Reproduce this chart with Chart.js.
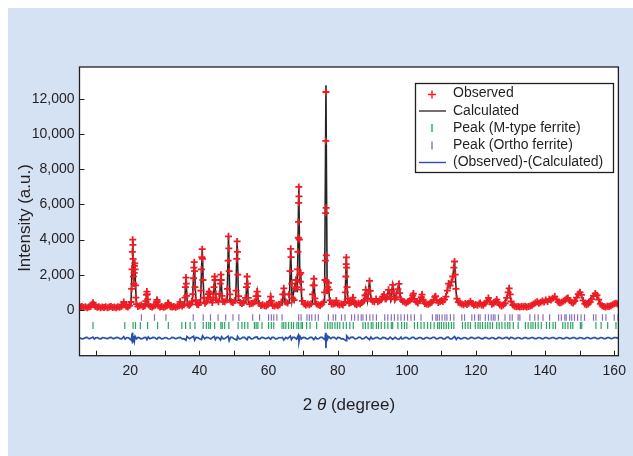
<!DOCTYPE html>
<html>
<head>
<meta charset="utf-8">
<script src="https://cdn.jsdelivr.net/npm/chart.js@4.4.1/dist/chart.umd.min.js"></script>
<style>
  html, body { margin: 0; padding: 0; background: #fff; }
</style>
</head>
<body>
<canvas id="xrd" width="633" height="456"></canvas>
<script>
// Observed pattern, [2theta, intensity]
const observed = [
  [5.5,160],[6,190],[6.5,140],[7,180],[7.5,130],[8,170],[8.5,200],[8.9,300],[9.2,410],[9.5,300],[9.9,200],[10.4,150],[10.9,180],[11.4,130],[11.9,170],[12.4,140],[12.9,180],[13.4,130],[13.9,160],[14.4,190],[14.9,140],[15.4,170],[15.9,130],[16.4,180],[16.9,150],[17.4,190],[17.8,280],[18.1,450],[18.4,300],[18.8,210],[19.3,170],[19.8,240],
  [20.2,450],[20.4,1200],[20.5,2300],[20.6,3300],[20.7,3990],[20.75,3700],[20.8,2900],[20.9,1900],[21.0,1500],[21.1,2100],[21.2,2500],[21.3,2650],[21.4,2300],[21.5,1400],[21.6,700],[21.8,330],[22.2,200],[22.7,240],[23.2,280],[23.7,190],[24.2,240],[24.5,500],[24.7,850],[24.8,1040],[24.9,900],[25.0,600],[25.3,280],[25.8,200],[26.3,170],[26.8,220],[27.3,260],[27.6,450],[27.7,570],[27.8,480],[28.1,240],[28.6,170],[29.1,200],[29.6,150],[30.1,180],[30.6,240],[30.9,380],[31.0,400],[31.2,290],[31.6,180],[32.1,160],[32.6,200],[33.1,150],[33.6,190],[34.1,240],[34.4,460],[34.6,280],[35.0,220],[35.5,300],
  [35.8,700],[35.95,1300],[36.1,1840],[36.2,1500],[36.3,800],[36.6,320],[37.0,260],[37.4,320],[37.8,480],[38.1,900],[38.3,1800],[38.4,2400],[38.5,2710],[38.6,2200],[38.7,1300],[38.9,560],[39.3,320],[39.7,290],[40.1,420],[40.4,1100],[40.6,2300],[40.7,3000],[40.8,3450],[40.9,2900],[41.0,1700],[41.2,680],[41.6,380],[42.0,460],[42.4,700],[42.6,900],[42.8,1040],[43.0,950],[43.3,580],[43.7,420],[44.0,700],[44.2,1300],[44.4,1900],[44.5,1700],[44.7,900],[45.0,560],[45.5,470],[45.8,900],[46.0,1500],[46.2,2000],[46.3,1700],[46.5,800],[46.8,480],[47.3,460],[47.8,560],[48.1,1200],[48.3,2800],[48.4,4180],[48.5,3500],[48.6,2200],[48.8,880],[49.2,460],[49.7,420],[50.2,520],[50.6,1100],[50.8,2900],[50.9,3890],[51.0,3300],[51.1,2000],[51.3,780],[51.8,420],[52.3,370],[52.8,420],[53.3,680],[53.6,1300],[53.8,1900],[53.9,1500],[54.1,680],[54.5,330],[55.0,360],[55.5,400],[56.0,460],[56.4,780],[56.7,1040],[56.9,780],[57.3,360],[57.8,250],[58.3,300],[58.8,240],[59.3,220],[59.8,300],
  [60.3,450],[60.6,760],[60.8,520],[61.2,250],[61.7,220],[62.2,280],[62.7,240],[63.2,290],[63.7,450],[64.1,880],[64.4,1230],[64.6,880],[65.0,450],[65.5,400],[65.9,880],[66.2,2200],[66.4,3470],[66.5,3000],[66.7,1500],[67.0,650],[67.4,560],[67.7,1200],[67.9,1700],[68.1,1300],[68.4,2300],[68.5,3300],[68.6,4100],[68.65,5000],[68.7,6080],[68.75,6990],[68.8,6450],[68.9,4000],[69.0,2000],[69.2,1600],[69.3,2100],[69.5,1150],[69.8,520],[70.3,330],[70.8,280],[71.3,340],[71.8,290],[72.3,350],[72.7,880],[72.9,1400],[73.1,1770],[73.2,1400],[73.4,660],[73.9,340],[74.4,290],[74.9,250],[75.4,330],[75.9,440],[76.2,1000],[76.35,1700],[76.45,2800],[76.5,5500],[76.55,9600],[76.6,12380],[76.65,5800],[76.7,3100],[76.8,1600],[76.9,1100],[77.1,1300],[77.3,1540],[77.5,1150],[77.8,540],[78.2,330],[78.7,330],[79.2,380],[79.6,530],[80.0,340],
  [80.5,280],[81.0,330],[81.5,280],[82.0,450],[82.2,1000],[82.35,1900],[82.45,2600],[82.5,2980],[82.6,2400],[82.7,1300],[82.9,640],[83.3,380],[83.8,420],[84.2,550],[84.4,700],[84.6,500],[85.0,330],[85.5,290],[86.0,380],[86.5,330],[87.0,420],[87.5,520],[87.9,820],[88.1,1140],[88.3,880],[88.7,640],[89.0,1100],[89.2,1650],[89.4,1080],[89.7,620],[90.1,500],[90.6,460],[91.1,620],[91.6,460],[92.1,520],[92.6,580],[93.0,760],[93.4,870],[93.8,620],[94.3,740],[94.7,1140],[95.0,760],[95.4,640],[95.7,1080],[95.9,1420],[96.1,960],[96.5,600],[97.0,720],[97.4,1180],[97.7,1480],[97.9,960],[98.3,600],[98.8,500],[99.3,450],[99.8,400],[100.3,460],[100.8,520],[101.3,620],[101.7,820],[101.9,930],[102.2,620],[102.7,460],[103.2,400],[103.7,520],[104.2,720],[104.4,870],[104.7,580],[105.2,370],[105.7,330],[106.2,320],[106.7,380],[107.2,440],[107.7,560],[108.1,740],[108.3,780],[108.6,560],[109.1,420],[109.6,480],[110.0,540],[110.4,480],[110.9,580],
  [111.3,760],[111.7,1100],[112.1,1500],[112.5,1380],[112.9,1600],[113.3,1900],[113.6,2400],[113.8,2750],[114.0,2000],[114.2,1200],[114.5,640],[114.9,440],[115.4,400],[115.9,340],[116.4,300],[116.9,360],[117.4,310],[117.9,380],[118.4,500],[118.9,360],[119.4,270],[119.9,310],[120.4,260],[120.9,330],[121.2,400],[121.6,280],[122.1,260],[122.6,380],[123.1,480],[123.6,680],[124.1,480],[124.6,320],[125.1,380],[125.6,470],[126.0,590],[126.4,430],[126.9,280],[127.4,230],[127.9,280],[128.4,380],[128.9,680],[129.3,1000],[129.6,1230],[129.9,880],[130.2,480],[130.7,280],
  [131.2,210],[131.7,180],[132.2,200],[132.7,170],[133.2,200],[133.7,180],[134.2,210],[134.7,170],[135.2,200],[135.7,220],[136.2,260],[136.7,330],[137.2,410],[137.7,460],[138.2,380],[138.7,430],[139.2,510],[139.7,450],[140.2,560],[140.7,480],[141.2,600],[141.7,560],[142.2,660],[142.8,760],[143.3,600],[143.8,440],[144.3,390],[144.8,440],[145.3,500],[145.8,560],[146.2,640],[146.6,680],[147.1,540],[147.6,440],[148.1,400],[148.6,500],[149.1,700],[149.6,900],[150.1,1000],[150.5,850],[151.0,540],[151.5,340],[152.0,290],[152.5,340],[153.0,450],[153.5,600],[154.0,800],[154.5,930],[155.0,840],[155.5,580],[156.0,340],[156.5,240],[157.0,190],[157.5,170],[158.0,210],[158.5,190],[159.0,240],[159.5,300],[160.0,350],[160.5,380],[161.0,340]
];

// Calculated profile
const calculated = [
  [5.3,160],[8.7,190],[9.2,400],[9.7,190],[12,160],[15,160],[17.6,180],[18.1,440],[18.6,200],[20.2,350],[20.5,2300],[20.7,4000],[20.9,1950],[21.05,1650],[21.3,2660],[21.5,1400],[21.8,300],[24.4,250],[24.8,1050],[25.2,250],[27.4,220],[27.7,560],[28.0,210],[30.7,190],[31.0,400],[31.3,190],[34.1,200],[34.4,450],[34.7,200],[35.7,300],[36.1,1850],[36.5,300],[37.9,380],[38.5,2720],[39.0,380],[40.3,420],[40.8,3460],[41.3,450],[42.4,520],[42.8,1050],[43.3,500],[44.0,520],[44.4,1910],[44.8,520],[45.8,560],[46.2,2090],[46.6,520],[48.0,500],[48.4,4200],[48.8,560],[50.5,520],[50.9,3900],[51.3,560],[53.4,420],[53.8,1900],[54.2,400],[56.3,400],[56.7,1050],[57.1,380],[58.0,260],[60.3,280],[60.6,760],[60.9,280],[62.0,260],[64.0,320],[64.4,1230],[64.8,340],[66.0,380],[66.4,3480],[66.8,520],[67.9,1700],[68.3,1000],[68.75,7050],[69.05,1500],[69.3,2100],[69.6,450],[70.0,350],[71.5,320],[72.7,340],[73.1,1780],[73.5,340],[75.0,300],[76.2,500],[76.6,12760],[76.95,900],[77.3,1550],[77.7,380],[79.3,300],[79.6,530],[79.9,300],[80.5,300],[82.1,420],[82.5,3000],[82.9,420],[84.1,360],[84.4,700],[84.7,360],[85.5,310],[87.0,440],[87.8,500],[88.1,1140],[88.6,520],[89.2,1650],[89.7,460],[90.6,480],[91.6,480],[92.6,560],[93.4,870],[94.0,560],[94.7,1140],[95.3,560],[95.9,1420],[96.5,540],[97.7,1480],[98.3,480],[99.3,450],[100.8,500],[101.5,600],[101.9,930],[102.3,460],[103.2,420],[104.1,520],[104.4,870],[104.8,420],[105.7,340],[107.2,430],[107.9,560],[108.3,780],[108.7,460],[109.6,480],[110.4,500],[111.0,600],[111.7,1080],[112.1,1500],[112.5,1380],[112.9,1600],[113.3,1900],[113.8,2770],[114.4,560],[115.5,400],[117.0,330],[118.0,380],[118.4,500],[118.8,360],[121.2,380],[123.2,460],[123.6,680],[124.0,460],[125.6,460],[126.0,590],[126.4,420],[127.4,240],[129.0,700],[129.6,1230],[130.2,460],[131,220],[133,190],[135,200],[136.5,300],[138,420],[140.2,530],[142.8,740],[144.3,400],[146.6,660],[148.1,420],[150.1,980],[151.5,350],[154.5,920],[156.5,250],[158,200],[160.5,360],[161.2,330]
];

// (Observed)-(Calculated), around zero
const difference = [
  [5.3,20],[6,-40],[6.5,-30],[7,30],[7.5,40],[8,-30],[8.5,-20],[9.2,60],[9.6,-50],[10,20],[10.5,30],[11,-30],[11.5,-40],[12,30],[12.5,20],[13,-20],[13.5,-30],[14,30],[14.5,40],[15,-30],[15.5,-20],[16,40],[16.5,30],[17,-30],[17.5,-40],[18.1,80],[18.5,-60],[19,30],[19.5,20],[20.3,-120],[20.5,250],[20.6,-300],[20.7,320],[20.8,-180],[21.0,120],[21.2,-150],[21.4,100],[21.8,-40],[22.2,40],[22.5,30],[23,-40],[23.5,-30],[24,30],[24.5,40],[24.8,-90],[25.2,60],[25.6,-30],[26,-20],[26.5,40],[27,30],[27.7,-60],[28.1,30],[28.5,40],[29,-40],[29.5,-30],[30,30],[30.5,20],[31,-50],[31.5,-40],[32,40],[32.5,30],[33,-30],[33.5,-20],[34,30],[34.5,40],[35,-40],[35.5,-30],[36.1,-120],[36.4,90],[36.8,30],[37.2,-30],[37.7,40],[38.3,100],[38.6,-120],[39,40],[39.5,30],[40,-40],[40.6,-90],[40.9,130],[41.5,-40],[42,40],[42.5,30],[43.3,-50],[43.8,40],[44.3,90],[44.6,-80],[45,40],[45.5,30],[46.1,-110],[46.4,80],[46.9,-40],[47.3,-30],[47.8,40],[48.3,110],[48.6,-150],[49,40],[49.5,40],[50,-40],[50.8,-110],[51.0,100],[51.5,-40],[52,-30],[52.5,40],[53,40],[53.8,-90],[54.1,50],[54.5,50],[55,-40],[55.5,-30],[56,40],[56.7,60],[57,-40],[57.5,-40],[58,40],[58.5,30],[59,-30],[59.5,-20],[60,40],[60.6,-70],[61,40],[61.5,40],[62,-40],[62.5,-30],[63,30],[63.5,20],[64,40],[64.4,-110],[65,40],[65.5,-30],[66.3,120],[66.6,-90],[67,40],[67.5,40],[68.1,-60],[68.6,150],[68.8,-200],[69.1,90],[69.5,-50],[70,40],[70.5,30],[71,-40],[71.5,-30],[72,40],[72.5,40],[73.1,-90],[73.6,50],[74,-40],[74.5,-30],[75,40],[75.5,40],[76.3,-100],[76.5,300],[76.6,-580],[76.7,200],[76.9,-120],[77.4,80],[78,-30],[78.5,40],[79,40],[79.6,-60],[80,40],[80.5,30],[81,-40],[81.5,-30],[82.4,-150],[82.6,130],[83.3,-40],[83.8,40],[84.4,60],[85,-40],[85.5,-30],[86,40],[86.5,40],[87,-40],[87.5,-30],[88.2,70],[89.2,-90],[89.6,60],[90,-40],[90.5,-30],[91,30],[91.5,40],[92,-30],[92.5,-40],[93,40],[93.5,30],[94.1,-30],[94.6,-60],[95.2,50],[95.9,-70],[96.6,40],[97.2,-40],[97.7,-70],[98.3,50],[98.6,-40],[99,-30],[99.5,40],[100,30],[100.5,-40],[101,-30],[101.5,40],[102,40],[102.5,-40],[103,-30],[103.5,30],[104,30],[104.5,-40],[105,-40],[105.5,30],[106,30],[106.5,-30],[107,-20],[107.5,40],[108,40],[108.5,-40],[109,-30],[109.5,30],[110,30],[110.5,-40],[111,-40],[111.5,40],[112,50],[112.5,-40],[113,-40],[113.8,90],[114.3,-80],[114.7,30],[115,30],[115.5,-40],[116,-30],[116.5,30],[117,20],[117.5,-40],[118,-30],[118.5,40],[119,30],[119.5,-30],[120,-20],[120.5,40],[121,30],[121.5,-30],[122,-40],[122.5,30],[123,30],[123.5,-30],[124,-30],[124.5,30],[125,20],[125.5,-40],[126,-30],[126.5,40],[127,30],[127.5,-30],[128,-20],[128.5,30],[129,40],[129.6,-60],[130,40],[130.5,30],[131,-30],[131.5,-30],[132,30],[132.5,20],[133,-30],[133.5,-30],[134,30],[134.5,30],[135,-30],[135.5,-20],[136,30],[136.5,30],[137,-30],[137.5,-30],[138,30],[138.5,20],[139,-30],[139.5,-30],[140,30],[140.5,30],[141,-30],[141.5,-20],[142,30],[142.5,30],[143,-30],[143.5,-30],[144,30],[144.5,20],[145,-30],[145.5,-30],[146,30],[146.5,30],[147,-30],[147.5,-20],[148,30],[148.5,30],[149,-30],[149.5,-30],[150,30],[150.5,20],[151,-30],[151.5,-30],[152,30],[152.5,30],[153,-30],[153.5,-20],[154,30],[154.5,30],[155,-30],[155.5,-30],[156,30],[156.5,20],[157,-30],[157.5,-30],[158,30],[158.5,30],[159,-30],[159.5,-20],[160,30],[160.5,30],[161.2,0]
];

// Bragg peak positions (2theta)
const mTypePeaks = [9.2,18.4,20.8,21.5,22.9,25.0,27.9,31.0,34.9,36.0,37.3,38.7,41.1,42.0,42.7,43.2,44.4,46.2,46.6,47.3,48.5,51.2,52.3,53.1,54.0,55.9,56.4,56.9,58.1,60.0,60.8,61.5,63.9,64.4,65.0,65.8,66.6,67.2,68.2,68.7,69.4,69.8,71.0,72.0,73.9,76.3,77.1,77.8,78.4,79.2,79.9,80.6,81.6,82.5,83.5,84.5,87.3,88.0,88.8,89.7,90.2,91.2,91.8,92.6,93.6,94.5,95.5,95.9,97.4,98.5,99.3,100.0,102.2,103.1,104.1,105.0,106.0,106.9,107.9,108.9,109.4,110.0,110.7,111.4,112.1,112.9,113.6,116.1,116.9,117.7,118.4,119.8,120.6,121.2,121.9,122.7,123.4,124.1,124.8,126.0,126.7,127.5,128.4,129.2,129.8,130.8,132.2,134.3,135.1,135.9,136.5,137.2,138.0,138.9,140.4,141.3,142.3,143.0,145.1,145.8,146.6,147.4,148.0,150.2,150.6,154.7,156.2,158.1,160.5];
const orthoPeaks = [23.2,27.0,30.3,38.2,41.1,43.2,45.4,47.6,49.7,51.4,55.4,57.4,60.0,60.8,61.5,62.4,63.9,68.7,69.4,71.1,71.8,72.5,73.5,74.4,77.3,78.7,79.4,81.1,82.1,84.0,84.9,85.9,86.8,87.3,88.3,89.3,90.2,91.2,93.6,94.5,95.5,96.4,97.4,98.3,99.3,100.2,101.2,102.2,104.1,107.4,108.4,108.8,109.4,110.2,111.0,111.6,112.6,113.6,115.9,116.7,118.8,119.6,120.7,121.2,122.7,123.6,124.4,125.0,125.5,126.5,128.4,129.8,130.5,132.2,132.7,135.6,137.0,138.0,139.4,141.3,143.9,144.7,145.7,146.1,147.1,147.7,148.5,149.4,150.4,151.4,154.0,154.7,156.6,157.6,160.0,161.1];

const xTickValues = [10,20,30,40,50,60,70,80,90,100,110,120,130,140,150,160];
const yTickValues = [0,2000,4000,6000,8000,10000,12000];
const seriesNames = ['Observed','Calculated','Peak (M-type ferrite)','Peak (Ortho ferrite)','(Observed)-(Calculated)'];

// vertical placement of the lower rows (data units)
const DIFF_OFFSET = -1600;
const M_ROW = -880;
const ORTHO_ROW = -426;

const RED = 'rgb(237,28,36)';
const GREEN = 'rgba(0,150,70,0.85)';
const PURPLE = 'rgba(120,86,176,0.85)';
const BLUE = 'rgb(40,80,170)';
const FONT = '"Liberation Sans", Arial, Helvetica, sans-serif';

function withCommas(v) {
    return String(v).replace(/\B(?=(\d{3})+(?!\d))/g, ',');
}

// background panel, frame, inside ticks, titles and legend
const decor = {
    id: 'decor',
    beforeDraw(chart) {
        const { ctx, chartArea: a } = chart;
        ctx.save();
        ctx.fillStyle = '#ffffff';
        ctx.fillRect(0, 0, chart.width, chart.height);
        ctx.fillStyle = '#d4e2f4';
        ctx.fillRect(8, 8, chart.width - 8, chart.height - 8);
        ctx.fillStyle = '#ffffff';
        ctx.fillRect(a.left, a.top, a.right - a.left, a.bottom - a.top);
        ctx.restore();
    },
    afterDraw(chart) {
        const { ctx, chartArea: a, scales } = chart;
        ctx.save();
        ctx.strokeStyle = '#231f20';
        ctx.lineWidth = 1.3;
        ctx.strokeRect(a.left, a.top, a.right - a.left, a.bottom - a.top);

        ctx.lineWidth = 1;
        ctx.beginPath();
        xTickValues.forEach(v => {
            const px = Math.round(scales.x.getPixelForValue(v)) + 0.5;
            ctx.moveTo(px, a.bottom);
            ctx.lineTo(px, a.bottom - 5);
        });
        yTickValues.forEach(v => {
            const py = Math.round(scales.y.getPixelForValue(v)) + 0.5;
            ctx.moveTo(a.left, py);
            ctx.lineTo(a.left + 5, py);
        });
        ctx.stroke();

        // axis titles
        ctx.fillStyle = '#231f20';
        ctx.textBaseline = 'middle';
        const normal = '17px ' + FONT;
        const italic = 'italic 17px ' + FONT;
        const parts = [['2 ', normal], ['\u03b8', italic], [' (degree)', normal]];
        let total = 0;
        parts.forEach(p => { ctx.font = p[1]; total += ctx.measureText(p[0]).width; });
        let tx = (a.left + a.right) / 2 - total / 2;
        ctx.textAlign = 'left';
        parts.forEach(p => {
            ctx.font = p[1];
            ctx.fillText(p[0], tx, 405);
            tx += ctx.measureText(p[0]).width;
        });

        ctx.save();
        ctx.translate(25, 218);
        ctx.rotate(-Math.PI / 2);
        ctx.font = normal;
        ctx.textAlign = 'center';
        ctx.fillText('Intensity (a.u.)', 0, 0);
        ctx.restore();

        // legend
        const bx = 415.5, by = 83.5, bw = 198, bh = 89;
        ctx.fillStyle = '#ffffff';
        ctx.fillRect(bx, by, bw, bh);
        ctx.strokeStyle = '#231f20';
        ctx.lineWidth = 1.3;
        ctx.strokeRect(bx, by, bw, bh);

        const rows = [93.5, 111, 128, 145.5, 162.5];
        const sx = 432;
        ctx.lineWidth = 1.4;
        // observed cross
        ctx.strokeStyle = RED;
        ctx.beginPath();
        ctx.moveTo(sx - 4, rows[0] + 1); ctx.lineTo(sx + 4, rows[0] + 1);
        ctx.moveTo(sx, rows[0] - 3); ctx.lineTo(sx, rows[0] + 5);
        ctx.stroke();
        // calculated line
        ctx.strokeStyle = '#333';
        ctx.beginPath();
        ctx.moveTo(419, rows[1]); ctx.lineTo(446, rows[1]);
        ctx.stroke();
        // peak ticks
        ctx.strokeStyle = GREEN;
        ctx.beginPath();
        ctx.moveTo(sx, rows[2] - 4); ctx.lineTo(sx, rows[2] + 4);
        ctx.stroke();
        ctx.strokeStyle = PURPLE;
        ctx.beginPath();
        ctx.moveTo(sx, rows[3] - 4); ctx.lineTo(sx, rows[3] + 4);
        ctx.stroke();
        // difference line
        ctx.strokeStyle = BLUE;
        ctx.beginPath();
        ctx.moveTo(419, rows[4]); ctx.lineTo(446, rows[4]);
        ctx.stroke();

        ctx.fillStyle = '#231f20';
        ctx.font = '14px ' + FONT;
        ctx.textAlign = 'left';
        seriesNames.forEach((name, i) => ctx.fillText(name, 453, rows[i]));
        ctx.restore();
    }
};

const ctx = document.getElementById('xrd').getContext('2d');

new Chart(ctx, {
    type: 'scatter',
    data: {
        datasets: [
            {
                label: seriesNames[0],
                data: observed,
                pointStyle: 'cross',
                pointRadius: 3.5,
                borderColor: RED,
                backgroundColor: RED,
                pointBorderWidth: 1.8,
                showLine: false
            },
            {
                label: seriesNames[1],
                data: calculated,
                showLine: true,
                borderColor: 'rgba(25,25,25,0.95)',
                borderWidth: 1.6,
                pointRadius: 0
            },
            {
                label: seriesNames[2],
                data: mTypePeaks.map(t => ({ x: t, y: M_ROW })),
                pointStyle: 'line',
                rotation: 90,
                pointRadius: 3.5,
                borderColor: GREEN,
                pointBorderWidth: 1.2,
                showLine: false
            },
            {
                label: seriesNames[3],
                data: orthoPeaks.map(t => ({ x: t, y: ORTHO_ROW })),
                pointStyle: 'line',
                rotation: 90,
                pointRadius: 3.2,
                borderColor: PURPLE,
                pointBorderWidth: 1.2,
                showLine: false
            },
            {
                label: seriesNames[4],
                data: difference.map(d => ({ x: d[0], y: d[1] + DIFF_OFFSET })),
                showLine: true,
                borderColor: BLUE,
                borderWidth: 1.7,
                pointRadius: 0
            }
        ]
    },
    options: {
        responsive: false,
        animation: false,
        events: [],
        layout: { padding: { left: 0, top: 67, right: 10.5, bottom: 0 } },
        plugins: {
            legend: { display: false },
            tooltip: { enabled: false }
        },
        scales: {
            x: {
                type: 'linear',
                min: 5.3,
                max: 161.2,
                grid: { display: false, drawTicks: false },
                border: { display: false },
                afterBuildTicks: s => { s.ticks = xTickValues.map(v => ({ value: v })); },
                afterFit: s => { s.height = 100.3; },
                ticks: {
                    autoSkip: false,
                    maxRotation: 0,
                    padding: 7,
                    color: '#231f20',
                    font: { family: FONT, size: 14 },
                    callback: v => (v % 20 === 0 ? String(v) : '')
                }
            },
            y: {
                min: -2600,
                max: 13800,
                grid: { display: false, drawTicks: false },
                border: { display: false },
                afterBuildTicks: s => { s.ticks = yTickValues.map(v => ({ value: v })); },
                afterFit: s => { s.width = 79.5; },
                ticks: {
                    padding: 5,
                    color: '#231f20',
                    font: { family: FONT, size: 14 },
                    callback: v => withCommas(v)
                }
            }
        }
    },
    plugins: [decor]
});
</script>
</body>
</html>
